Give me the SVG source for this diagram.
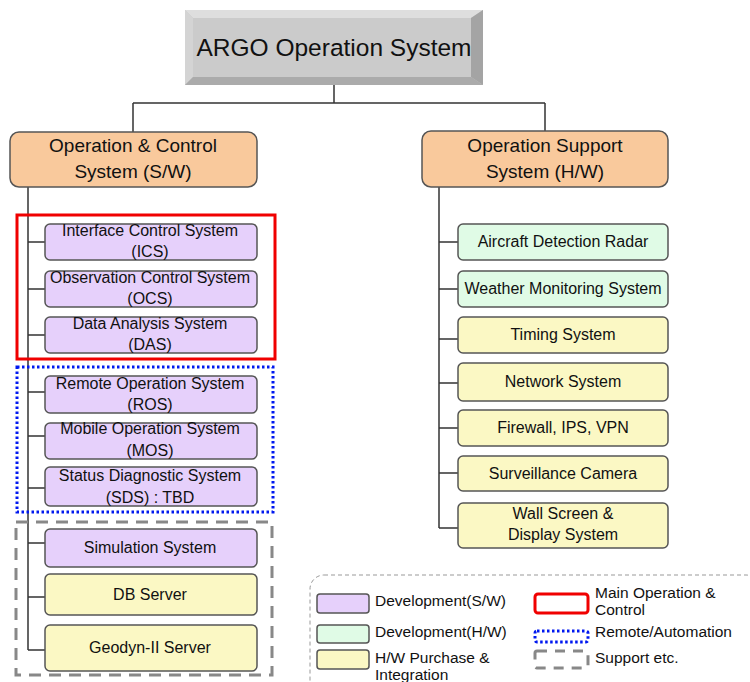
<svg xmlns="http://www.w3.org/2000/svg" width="750" height="682" viewBox="0 0 750 682">
<style>
text{font-family:"Liberation Sans",Arial,sans-serif;fill:#111;text-anchor:middle}
.n{stroke:#555;stroke-width:1.5}
.p{fill:#E6D0FB}
.g{fill:#E0FBE6}
.y{fill:#FBF8C4}
.o{fill:#F9C99C}
.t{font-size:16px}
.h{font-size:19px}
.l{font-size:15.5px;text-anchor:start}
.c{stroke:#333;stroke-width:1.5;fill:none}
</style>
<rect width="750" height="682" fill="#fff"/>
<g id="connectors">
<path class="c" d="M334 85V103M133 103H545M133 103V132M545 103V131"/>
<path class="c" d="M28 187V650M28 242H45M28 289H45M28 335H45M28 392H45M28 436H45M28 488H45M28 543H45M28 597H45M28 650H45"/>
<path class="c" d="M439 187V528M439 242H458M439 289H458M439 339H458M439 383H458M439 428H458M439 473H458M439 528H458"/>
</g>
<g id="title">
<rect x="185" y="10" width="298" height="75" fill="#C6C6C6"/>
<polygon points="185,10 483,10 471,18 193,18" fill="#DEDEDE"/>
<polygon points="185,10 193,18 193,77 185,85" fill="#D4D4D4"/>
<polygon points="483,10 483,85 471,77 471,18" fill="#A4A4A4"/>
<polygon points="185,85 483,85 471,77 193,77" fill="#ABABAB"/>
<rect x="193" y="18" width="278" height="59" fill="#CBCBCB"/>
<text x="334" y="56" style="font-size:24.5px">ARGO Operation System</text>
</g>
<g id="opctrl"><rect class="n o" x="10" y="132" width="247" height="55" rx="9"/>
<text class="h" x="133" y="152">Operation &amp; Control</text><text class="h" x="133" y="178">System (S/W)</text></g>
<g id="opsupport"><rect class="n o" x="422" y="131" width="246" height="56" rx="9"/>
<text class="h" x="545" y="152">Operation Support</text><text class="h" x="545" y="178">System (H/W)</text></g>
<g id="ics"><rect class="n p" x="45" y="224" width="212" height="36" rx="5"/><text class="t" x="150" y="236">Interface Control System</text><text class="t" x="150" y="257">(ICS)</text></g>
<g id="ocs"><rect class="n p" x="45" y="271" width="212" height="36" rx="5"/><text class="t" x="150" y="283">Observation Control System</text><text class="t" x="150" y="304">(OCS)</text></g>
<g id="das"><rect class="n p" x="45" y="317" width="212" height="36" rx="5"/><text class="t" x="150" y="329">Data Analysis System</text><text class="t" x="150" y="350">(DAS)</text></g>
<g id="ros"><rect class="n p" x="45" y="376" width="212" height="37" rx="5"/><text class="t" x="150" y="389">Remote Operation System</text><text class="t" x="150" y="410">(ROS)</text></g>
<g id="mos"><rect class="n p" x="45" y="423" width="212" height="36" rx="5"/><text class="t" x="150" y="434">Mobile Operation System</text><text class="t" x="150" y="456">(MOS)</text></g>
<g id="sds"><rect class="n p" x="45" y="467" width="212" height="39" rx="5"/><text class="t" x="150" y="481">Status Diagnostic System</text><text class="t" x="150" y="503">(SDS) :  TBD</text></g>
<g id="sim"><rect class="n p" x="45" y="529" width="212" height="38" rx="5"/><text class="t" x="150" y="553">Simulation System</text></g>
<g id="db"><rect class="n y" x="45" y="574" width="212" height="41" rx="5"/><text class="t" x="150" y="600">DB Server</text></g>
<g id="geodyn"><rect class="n y" x="45" y="625" width="212" height="46" rx="5"/><text class="t" x="150" y="653">Geodyn-II Server</text></g>
<g id="main-box"><rect x="17" y="215" width="258" height="144" fill="none" stroke="#F00000" stroke-width="3"/></g>
<g id="remote-box"><rect x="17" y="367" width="256" height="145" fill="none" stroke="#0018F0" stroke-width="3" stroke-dasharray="2.5 2.5"/></g>
<g id="support-box"><rect x="16" y="522" width="256" height="153" fill="none" stroke="#888" stroke-width="3" stroke-dasharray="12 8"/></g>
<g id="radar"><rect class="n g" x="458" y="224" width="210" height="36" rx="5"/><text class="t" x="563" y="247">Aircraft Detection Radar</text></g>
<g id="weather"><rect class="n g" x="458" y="271" width="210" height="36" rx="5"/><text class="t" x="563" y="294">Weather Monitoring System</text></g>
<g id="timing"><rect class="n y" x="458" y="317" width="210" height="36" rx="5"/><text class="t" x="563" y="340">Timing System</text></g>
<g id="network"><rect class="n y" x="458" y="363" width="210" height="38" rx="5"/><text class="t" x="563" y="387">Network System</text></g>
<g id="firewall"><rect class="n y" x="458" y="410" width="210" height="36" rx="5"/><text class="t" x="563" y="433">Firewall, IPS, VPN</text></g>
<g id="camera"><rect class="n y" x="458" y="456" width="210" height="35" rx="5"/><text class="t" x="563" y="479">Surveillance Camera</text></g>
<g id="wall"><rect class="n y" x="458" y="503" width="210" height="45" rx="5"/><text class="t" x="563" y="519">Wall Screen &amp;</text><text class="t" x="563" y="540">Display System</text></g>
<g id="legend">
<rect x="310" y="575" width="450" height="130" rx="14" fill="none" stroke="#999" stroke-width="1" stroke-dasharray="4 3"/>
<rect class="n p" x="317" y="594" width="52" height="19" rx="3"/>
<rect class="n g" x="317" y="625" width="52" height="18" rx="3"/>
<rect class="n y" x="317" y="650" width="52" height="19" rx="3"/>
<text class="l" x="375" y="606">Development(S/W)</text>
<text class="l" x="375" y="637">Development(H/W)</text>
<text class="l" x="375" y="663">H/W Purchase &amp;</text>
<text class="l" x="375" y="680">Integration</text>
<rect x="535" y="594" width="53" height="19" rx="3" fill="none" stroke="#F00000" stroke-width="3"/>
<rect x="535" y="631" width="53" height="11" rx="2" fill="none" stroke="#0018F0" stroke-width="3" stroke-dasharray="2.5 2.5"/>
<rect x="535" y="651" width="53" height="17" rx="2" fill="none" stroke="#888" stroke-width="3" stroke-dasharray="10 8"/>
<text class="l" x="595" y="598">Main Operation &amp;</text>
<text class="l" x="595" y="615">Control</text>
<text class="l" x="595" y="637">Remote/Automation</text>
<text class="l" x="595" y="663">Support etc.</text>
</g>
</svg>
